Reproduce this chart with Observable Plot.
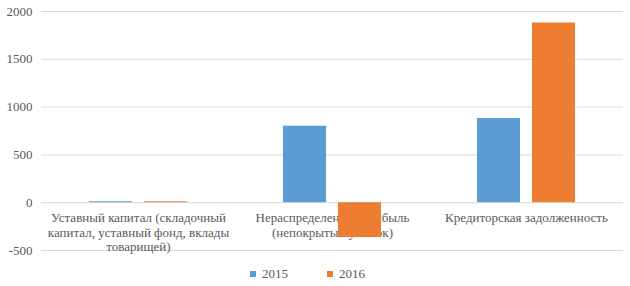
<!DOCTYPE html>
<html>
<head>
<meta charset="utf-8">
<script src="https://cdn.jsdelivr.net/npm/d3@7"></script>
<script src="https://cdn.jsdelivr.net/npm/@observablehq/plot@0.6"></script>
<style>
  body { margin: 0; background: #fff; font-family: "Liberation Serif", "Times New Roman", serif; }
  #chart { width: 630px; }
  #chart svg, #chart svg text { font-family: "Liberation Serif", "Times New Roman", serif !important; }
  .legend { position: relative; height: 24px; width: 630px; font-size: 13px; color: #595959; }
  .legend .item { position: absolute; top: 4px; display: flex; align-items: center; }
  .legend .sw { width: 6px; height: 6px; margin-right: 6px; }
</style>
</head>
<body>
<div id="chart"></div>
<script>
const categories = [
  "Уставный капитал (складочный\nкапитал, уставный фонд, вклады\nтоварищей)",
  "Нераспределенная прибыль\n(непокрытый убыток)",
  "Кредиторская задолженность"
];
const years = ["2015", "2016"];
const values2015 = [10, 800, 880];
const values2016 = [10, -365, 1880];
const yTicks = [-500, 0, 500, 1000, 1500, 2000];
const colors = ["#5b9bd5", "#ed7d31"];

const data = [];
categories.forEach((c, i) => {
  data.push({category: c, year: years[0], value: values2015[i]});
  data.push({category: c, year: years[1], value: values2016[i]});
});

const chart = Plot.plot({
  width: 630,
  height: 262,
  marginLeft: 40,
  marginRight: 7,
  marginTop: 11,
  marginBottom: 12,
  style: {fontFamily: "Liberation Serif", fontSize: "13px", color: "#595959", background: "#fff"},
  fx: {domain: categories, axis: null, padding: 0},
  x: {domain: years, axis: null, paddingInner: 0.22, paddingOuter: 0.87},
  y: {domain: [-500, 2000], ticks: yTicks, label: null},
  color: {domain: years, range: colors},
  marks: [
    Plot.gridY(yTicks, {stroke: "#d9d9d9", strokeOpacity: 1, strokeWidth: 1}),
    Plot.axisY(yTicks, {tickSize: 0, tickPadding: 9, fill: "#595959", fontSize: 13, label: null, tickFormat: d => String(d)}),
    Plot.text(categories, {
      fx: d => d,
      y: () => 0,
      text: d => d,
      lineAnchor: "top",
      dy: 9,
      lineHeight: 1.12,
      fill: "#595959",
      fontSize: 13,
      fontFamily: "Liberation Serif"
    }),
    Plot.barY(data, {fx: "category", x: "year", y: "value", fill: "year"})
  ]
});
document.getElementById("chart").appendChild(chart);

const legend = document.createElement("div");
legend.className = "legend";
const lefts = [250, 327];
years.forEach((y, i) => {
  const it = document.createElement("div");
  it.className = "item";
  it.style.left = lefts[i] + "px";
  const sw = document.createElement("span");
  sw.className = "sw";
  sw.style.background = colors[i];
  const t = document.createElement("span");
  t.textContent = y;
  it.appendChild(sw);
  it.appendChild(t);
  legend.appendChild(it);
});
document.body.appendChild(legend);
</script>
</body>
</html>
